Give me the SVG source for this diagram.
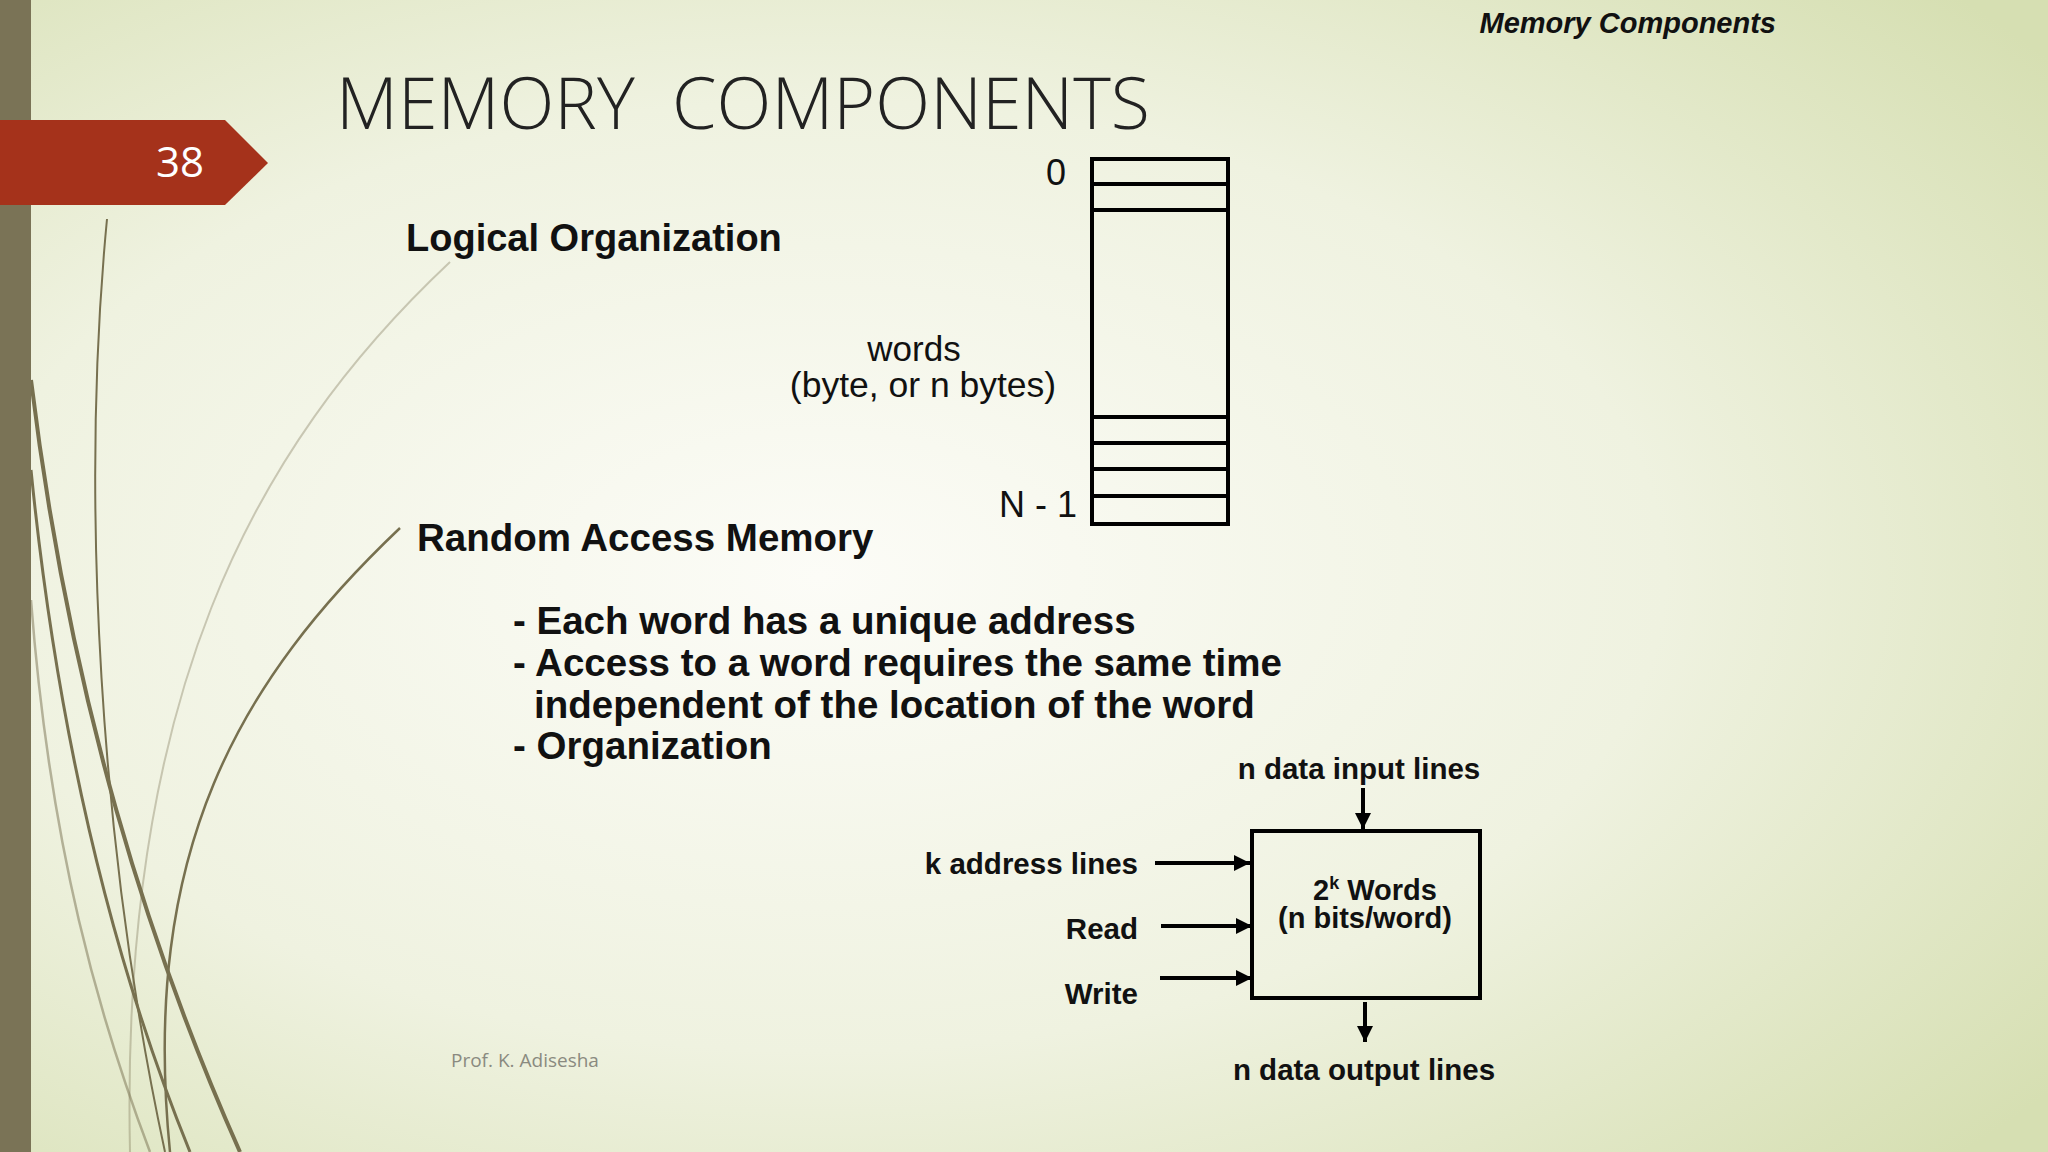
<svg xmlns="http://www.w3.org/2000/svg" width="2048" height="1152" viewBox="0 0 2048 1152">
<defs>
<radialGradient id="bg" cx="0.4" cy="0.5" r="0.75">
<stop offset="0" stop-color="#fcfcf7"/>
<stop offset="0.55" stop-color="#eff2e0"/>
<stop offset="1" stop-color="#d6dfb2"/>
</radialGradient>
<marker id="ah" viewBox="0 0 10 10" refX="10" refY="5" markerWidth="4" markerHeight="4" orient="auto"><path d="M0,0 L10,5 L0,10 Z" fill="#000"/></marker>
</defs>
<style>
.b{font-family:"Liberation Sans",Arial,sans-serif;font-weight:bold;fill:#111}
.r{font-family:"Liberation Sans",Arial,sans-serif;fill:#111}
.ln{stroke:#000;stroke-width:4;fill:none}
.ar{stroke:#000;stroke-width:4;fill:none;marker-end:url(#ah)}
.deco{fill:none;stroke:#77704f}
</style>
<rect width="2048" height="1152" fill="url(#bg)"/>
<g id="decor">
<path class="deco" stroke-width="2" d="M107,219 C80,500 100,850 165,1152"/>
<path class="deco" stroke-width="2" opacity="0.35" d="M450,262 C250,450 120,700 130,1152"/>
<path class="deco" stroke-width="2.5" d="M400,528 C240,680 140,850 170,1152"/>
<path class="deco" stroke-width="4" d="M31,380 C70,700 150,950 240,1152"/>
<path class="deco" stroke-width="3" d="M31,470 C60,760 120,980 190,1152"/>
<path class="deco" stroke-width="2.5" opacity="0.5" d="M31,600 C50,850 100,1020 150,1152"/>
<rect x="0" y="0" width="31" height="1152" fill="#7a7356"/>
</g>
<g id="tab">
<polygon points="0,120 225,120 268,163 225,205 0,205" fill="#a5321b"/>
<text x="180" y="177" font-family="'Open Sans','Liberation Sans',sans-serif" font-size="42" fill="#fff" text-anchor="middle">38</text>
</g>
<text x="1776" y="33" class="b" font-size="29" font-style="italic" text-anchor="end">Memory Components</text>
<text x="336" y="129" font-family="'Open Sans','Liberation Sans',sans-serif" font-weight="300" font-size="72" fill="#222" textLength="814" lengthAdjust="spacingAndGlyphs" xml:space="preserve">MEMORY  COMPONENTS</text>
<text x="406" y="251" class="b" font-size="38">Logical Organization</text>
<g id="array">
<rect x="1092" y="159" width="136" height="365" class="ln"/>
<path class="ln" d="M1092,184H1228M1092,210H1228M1092,417H1228M1092,443H1228M1092,469H1228M1092,496H1228"/>
<text x="1066" y="185" class="r" font-size="36" text-anchor="end">0</text>
<text x="914" y="361" class="r" font-size="35" text-anchor="middle">words</text>
<text x="923" y="397" class="r" font-size="35.5" text-anchor="middle">(byte, or n bytes)</text>
<text x="1077" y="517" class="r" font-size="36" text-anchor="end">N - 1</text>
</g>
<text x="417" y="551" class="b" font-size="38.5">Random Access Memory</text>
<g class="b" font-size="38.5">
<text x="513" y="634">- Each word has a unique address</text>
<text x="513" y="676">- Access to a word requires the same time</text>
<text x="534" y="718">independent of the location of the word</text>
<text x="513" y="759">- Organization</text>
</g>
<g id="ram">
<rect x="1252" y="831" width="228" height="167" class="ln"/>
<text x="1375" y="900" class="b" font-size="29" text-anchor="middle">2<tspan font-size="18" dy="-11">k</tspan><tspan dy="11"> Words</tspan></text>
<text x="1365" y="928" class="b" font-size="29" text-anchor="middle">(n bits/word)</text>
</g>
<g class="b" font-size="29.5">
<text x="1359" y="779" text-anchor="middle">n data input lines</text>
<text x="1138" y="874" text-anchor="end">k address lines</text>
<text x="1138" y="939" text-anchor="end">Read</text>
<text x="1138" y="1004" text-anchor="end">Write</text>
<text x="1364" y="1080" text-anchor="middle">n data output lines</text>
</g>
<g id="connectors">
<path class="ar" d="M1363,788V829"/>
<path class="ar" d="M1155,863H1250"/>
<path class="ar" d="M1161,926H1252"/>
<path class="ar" d="M1160,978H1252"/>
<path class="ar" d="M1365,1002V1042"/>
</g>
<text x="451" y="1067" font-family="'Open Sans','Liberation Sans',sans-serif" font-size="19" fill="#8a8a80">Prof. K. Adisesha</text>
</svg>
